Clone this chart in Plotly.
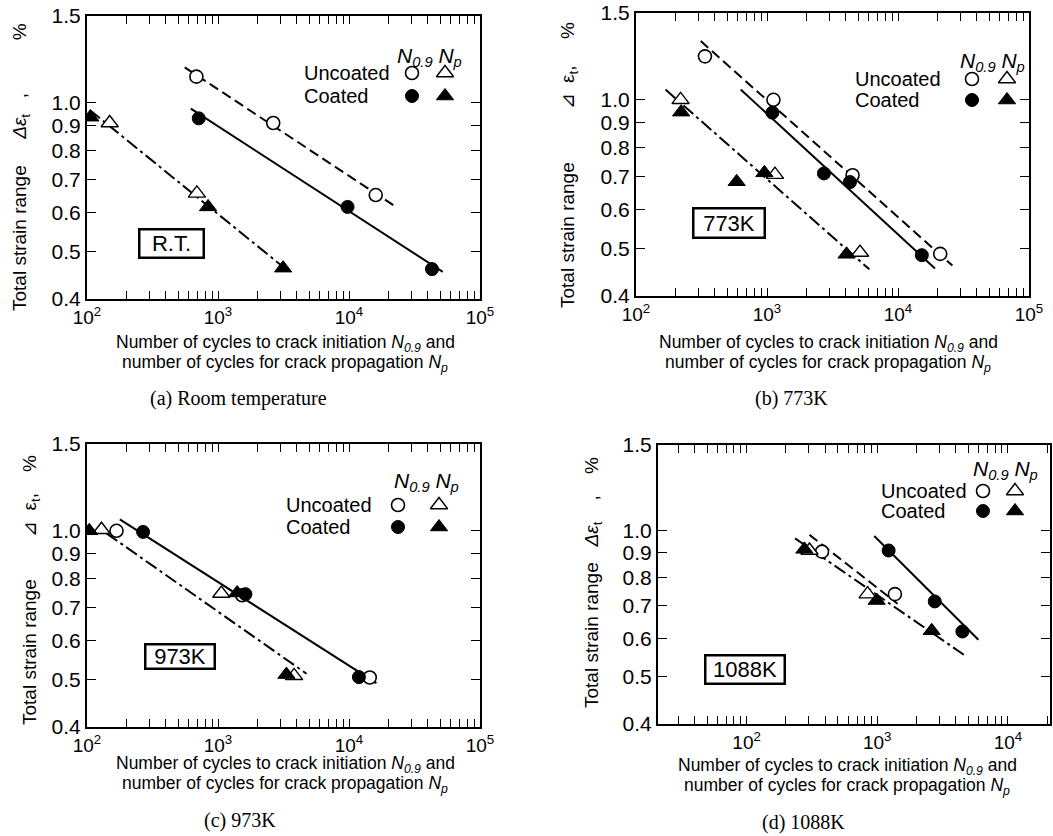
import math
import plotly.graph_objects as go

W, H = 1053, 836
SANS = "Liberation Sans, Arial, sans-serif"
SERIF = "Liberation Serif, Times New Roman, serif"

# ---------------- data ----------------
# (a) Room temperature
a_unc_n09_x = [684, 2640, 16000];      a_unc_n09_y = [1.13, 0.91, 0.65]
a_coat_n09_x = [713, 9750, 43000];     a_coat_n09_y = [0.93, 0.615, 0.46]
a_unc_np_x = [149, 690];               a_unc_np_y = [0.91, 0.655]
a_coat_np_x = [106, 840, 3140];        a_coat_np_y = [0.935, 0.615, 0.462]
a_fit_unc_x = [557, 21800];            a_fit_unc_y = [1.18, 0.62]
a_fit_coat_x = [620, 52000];           a_fit_coat_y = [0.973, 0.454]
a_fit_np_x = [105, 3500];              a_fit_np_y = [0.967, 0.454]

# (b) 773K
b_unc_n09_x = [336, 1120, 4500, 21000];  b_unc_n09_y = [1.225, 1.00, 0.703, 0.487]
b_coat_n09_x = [1100, 2720, 4300, 15200]; b_coat_n09_y = [0.942, 0.709, 0.681, 0.484]
b_unc_np_x = [219, 1150, 5130];          b_unc_np_y = [1.00, 0.705, 0.490]
b_coat_np_x = [221, 587, 955, 4050];     b_coat_np_y = [0.944, 0.682, 0.711, 0.486]
b_fit_unc_x = [312, 26000];              b_fit_unc_y = [1.316, 0.461]
b_fit_coat_x = [630, 19150];             b_fit_coat_y = [1.049, 0.455]
b_fit_np_x = [168, 6040];                b_fit_np_y = [1.049, 0.453]

# (c) 973K
c_unc_n09_x = [168, 1530, 14400];      c_unc_n09_y = [1.00, 0.740, 0.504]
c_coat_n09_x = [268, 1620, 11900];     c_coat_n09_y = [0.995, 0.744, 0.505]
c_unc_np_x = [129, 1060, 3810];        c_unc_np_y = [1.005, 0.746, 0.508]
c_coat_np_x = [104, 1400, 3330];       c_coat_np_y = [1.00, 0.748, 0.511]
c_fit_n09_x = [178, 16200];            c_fit_n09_y = [1.055, 0.491]
c_fit_np_x = [141, 4740];              c_fit_np_y = [0.988, 0.513]

# (d) 1088K
d_unc_n09_x = [378, 1365];             d_unc_n09_y = [0.905, 0.74]
d_coat_n09_x = [1222, 2754, 4480];     d_coat_n09_y = [0.91, 0.715, 0.62]
d_unc_np_x = [303, 843];               d_unc_np_y = [0.91, 0.74]
d_coat_np_x = [277, 989, 2610];        d_coat_np_y = [0.915, 0.718, 0.622]
d_fit_unc_x = [303, 1430];             d_fit_unc_y = [0.98, 0.707]
d_fit_coat_x = [948, 5940];            d_fit_coat_y = [0.975, 0.596]
d_fit_np_x = [235, 4610];              d_fit_np_y = [0.964, 0.555]

y_tick_vals = [0.4, 0.5, 0.6, 0.7, 0.8, 0.9, 1.0, 1.5]
y_tick_text = ["0.4", "0.5", "0.6", "0.7", "0.8", "0.9", "1.0", "1.5"]
legend_rows = ["Uncoated", "Coated"]
captions = ["(a) Room temperature", "(b) 773K", "(c) 973K", "(d) 1088K"]
temp_labels = ["R.T.", "773K", "973K", "1088K"]

# ---------------- styles ----------------
OPEN_C = dict(symbol="circle", size=13, color="white", line=dict(color="black", width=1.6))
FILL_C = dict(symbol="circle", size=13, color="black", line=dict(color="black", width=1))
OPEN_T = dict(symbol="triangle-up", size=15, color="white", line=dict(color="black", width=1.4))
FILL_T = dict(symbol="triangle-up", size=15, color="black", line=dict(color="black", width=1))
SOLID = dict(color="black", width=2)
DASH = dict(color="black", width=2, dash="10px,5px")
DASHDOT = dict(color="black", width=2, dash="13px,4px,3px,4px")

NB = "\u00a0"
YT_A = ("Total strain range" + NB * 5 + "<i>Δε</i><sub>t</sub>" + NB * 3 + "," + NB * 10 + "%")
YT_B = ("Total strain range" + NB * 10 + "⊿" + NB * 2 + "ε<sub>t</sub>" + "," + NB * 5 + "%")
YT_C = ("Total strain range" + NB * 8 + "⊿" + NB * 2 + "ε<sub>t</sub>" + "," + NB * 4 + "%")
YT_D = ("Total strain range" + NB * 3 + "<i>Δε</i><sub>t</sub>" + NB * 4 + "," + NB * 4 + "%")
XT_1 = "Number of cycles to crack initiation <i>N<sub>0.9</sub></i> and"
XT_2 = "number of cycles for crack propagation <i>N<sub>p</sub></i>"

panels = [
    dict(box=(87, 480, 16, 299), xlog=(2, 5),
         lines=[(a_fit_unc_x, a_fit_unc_y, DASH), (a_fit_coat_x, a_fit_coat_y, SOLID), (a_fit_np_x, a_fit_np_y, DASHDOT)],
         pts=[(a_unc_n09_x, a_unc_n09_y, OPEN_C), (a_coat_n09_x, a_coat_n09_y, FILL_C),
              (a_unc_np_x, a_unc_np_y, OPEN_T), (a_coat_np_x, a_coat_np_y, FILL_T)],
         ytitle=YT_A, ytpos=(21, 167),
         xtpos=(285, 344, 364), cap=(238, 398), tbox=(171, 243, 62, 26),
         leg=dict(text_x=302, rows=(73, 96), cols=(412, 445), head=(429, 57))),
    dict(box=(636, 1029, 13, 296), xlog=(2, 5),
         lines=[(b_fit_unc_x, b_fit_unc_y, DASH), (b_fit_coat_x, b_fit_coat_y, SOLID), (b_fit_np_x, b_fit_np_y, DASHDOT)],
         pts=[(b_unc_n09_x, b_unc_n09_y, OPEN_C), (b_coat_n09_x, b_coat_n09_y, FILL_C),
              (b_unc_np_x, b_unc_np_y, OPEN_T), (b_coat_np_x, b_coat_np_y, FILL_T)],
         ytitle=YT_B, ytpos=(569, 165),
         xtpos=(828, 343, 363), cap=(791, 398), tbox=(729, 223, 69, 27),
         leg=dict(text_x=853, rows=(79, 100), cols=(972, 1007), head=(992, 62))),
    dict(box=(87, 480, 444, 727), xlog=(2, 5),
         lines=[(c_fit_n09_x, c_fit_n09_y, SOLID), (c_fit_np_x, c_fit_np_y, DASHDOT)],
         pts=[(c_unc_n09_x, c_unc_n09_y, OPEN_C), (c_coat_n09_x, c_coat_n09_y, FILL_C),
              (c_unc_np_x, c_unc_np_y, OPEN_T), (c_coat_np_x, c_coat_np_y, FILL_T)],
         ytitle=YT_C, ytpos=(31, 590),
         xtpos=(285, 764, 784), cap=(240, 820), tbox=(180, 656, 67, 22),
         leg=dict(text_x=284, rows=(505, 527), cols=(398, 439), head=(426, 482))),
    dict(box=(658, 1050, 445, 724), xlog=(1.322, 4.322),
         lines=[(d_fit_unc_x, d_fit_unc_y, DASH), (d_fit_coat_x, d_fit_coat_y, SOLID), (d_fit_np_x, d_fit_np_y, DASHDOT)],
         pts=[(d_unc_n09_x, d_unc_n09_y, OPEN_C), (d_coat_n09_x, d_coat_n09_y, FILL_C),
              (d_unc_np_x, d_unc_np_y, OPEN_T), (d_coat_np_x, d_coat_np_y, FILL_T)],
         ytitle=YT_D, ytpos=(593, 583),
         xtpos=(847, 766, 786), cap=(803, 822), tbox=(745, 669, 77, 26),
         leg=dict(text_x=879, rows=(491, 511), cols=(983, 1015), head=(1005, 470))),
]

YLO, YHI = math.log10(0.4), math.log10(1.5)


def PX(x):
    return x / W


def PY(y):
    return 1 - y / H


def to_data(p, px, py):
    """pixel position inside panel p -> data coordinates of that panel"""
    l, r, t, b = p["box"]
    lo, hi = p["xlog"]
    xv = 10 ** (lo + (px - l) / (r - l) * (hi - lo))
    yv = 10 ** (YLO + (b - py) / (b - t) * (YHI - YLO))
    return xv, yv


fig = go.Figure()
annotations = []
layout_axes = {}
common = dict(ticks="inside", tickcolor="black", tickwidth=1, showline=True, linewidth=2,
              linecolor="black", mirror="ticks", showgrid=False, zeroline=False)

for i, p in enumerate(panels, start=1):
    xs = "x" if i == 1 else f"x{i}"
    ys = "y" if i == 1 else f"y{i}"
    l, r, t, b = p["box"]
    lo, hi = p["xlog"]
    xt, xtt = [], []
    for d in range(1, 6):
        for m in range(1, 10):
            v = m * 10 ** d
            if lo - 1e-6 <= math.log10(v) <= hi + 1e-6:
                xt.append(v)
                xtt.append(f"10<sup>{d}</sup>" if m == 1 else "")
    layout_axes["xaxis" if i == 1 else f"xaxis{i}"] = dict(
        domain=[PX(l), PX(r)], anchor=ys, type="log", range=[lo, hi], tickmode="array",
        tickvals=xt, ticktext=xtt, ticklen=8,
        tickfont=dict(size=19, family=SANS, color="black"), **common)
    layout_axes["yaxis" if i == 1 else f"yaxis{i}"] = dict(
        domain=[PY(b), PY(t)], anchor=xs, type="log", range=[YLO, YHI],
        tickmode="array", tickvals=y_tick_vals, ticktext=y_tick_text, ticklen=9,
        tickfont=dict(size=21, family=SANS, color="black"), **common)

    for lx, ly, style in p["lines"]:
        fig.add_trace(go.Scatter(x=lx, y=ly, mode="lines", line=style, xaxis=xs, yaxis=ys,
                                 showlegend=False, hoverinfo="skip"))
    for px_, py_, mk in p["pts"]:
        fig.add_trace(go.Scatter(x=px_, y=py_, mode="markers", marker=mk, xaxis=xs, yaxis=ys,
                                 showlegend=False))

    # axis titles
    annotations.append(dict(x=PX(p["ytpos"][0]), y=PY(p["ytpos"][1]), text=p["ytitle"], textangle=-90,
                            font=dict(size=19, family=SANS, color="black")))
    for txt, yy in ((XT_1, p["xtpos"][1]), (XT_2, p["xtpos"][2])):
        annotations.append(dict(x=PX(p["xtpos"][0]), y=PY(yy), text=txt,
                                font=dict(size=17.5, family=SANS, color="black")))
    # caption
    annotations.append(dict(x=PX(p["cap"][0]), y=PY(p["cap"][1]), text=captions[i - 1],
                            font=dict(size=20, family=SERIF, color="black")))
    # temperature box
    cx, cy, bw, bh = p["tbox"]
    annotations.append(dict(x=PX(cx), y=PY(cy), text=temp_labels[i - 1], width=bw, height=bh,
                            bordercolor="black", borderwidth=2.5, borderpad=0, bgcolor="white",
                            font=dict(size=22, family=SANS, color="black")))
    # legend (drawn by hand as in the original)
    lg = p["leg"]
    annotations.append(dict(x=PX(lg["head"][0]), y=PY(lg["head"][1]),
                            text="<i>N<sub>0.9</sub></i> <i>N<sub>p</sub></i>",
                            font=dict(size=21, family=SANS, color="black")))
    for row_y, txt in zip(lg["rows"], legend_rows):
        annotations.append(dict(x=PX(lg["text_x"]), y=PY(row_y), text=txt, xanchor="left",
                                font=dict(size=20, family=SANS, color="black")))
    for mk, ci, ri in [(OPEN_C, 0, 0), (OPEN_T, 1, 0), (FILL_C, 0, 1), (FILL_T, 1, 1)]:
        lx, ly = to_data(p, lg["cols"][ci], lg["rows"][ri])
        fig.add_trace(go.Scatter(x=[lx], y=[ly], mode="markers", marker=mk,
                                 xaxis=xs, yaxis=ys, showlegend=False, hoverinfo="skip"))

for a in annotations:
    a.update(xref="paper", yref="paper", showarrow=False)
    a.setdefault("xanchor", "center")
    a.setdefault("yanchor", "middle")

fig.update_layout(width=W, height=H, margin=dict(l=0, r=0, t=0, b=0, autoexpand=False),
                  paper_bgcolor="white", plot_bgcolor="white",
                  annotations=annotations, showlegend=False, **layout_axes)

fig.write_html("out.html")
